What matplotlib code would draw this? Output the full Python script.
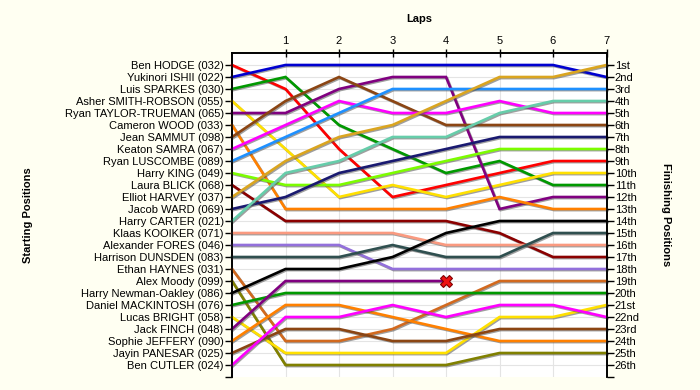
import numpy as np
import matplotlib
matplotlib.use('Agg')
import matplotlib.pyplot as plt
import matplotlib.patheffects as pe

plt.rcParams['font.family'] = ['Liberation Sans', 'DejaVu Sans']

laps = [0, 1, 2, 3, 4, 5, 6, 7]

drivers = ['Ben HODGE (032)', 'Yukinori ISHII (022)', 'Luis SPARKES (030)',
           'Asher SMITH-ROBSON (055)', 'Ryan TAYLOR-TRUEMAN (065)', 'Cameron WOOD (033)',
           'Jean SAMMUT (098)', 'Keaton SAMRA (067)', 'Ryan LUSCOMBE (089)',
           'Harry KING (049)', 'Laura BLICK (068)', 'Elliot HARVEY (037)',
           'Jacob WARD (069)', 'Harry CARTER (021)', 'Klaas KOOIKER (071)',
           'Alexander FORES (046)', 'Harrison DUNSDEN (083)', 'Ethan HAYNES (031)',
           'Alex Moody (099)', 'Harry Newman-Oakley (086)', 'Daniel MACKINTOSH (076)',
           'Lucas BRIGHT (058)', 'Jack FINCH (048)', 'Sophie JEFFERY (090)',
           'Jayin PANESAR (025)', 'Ben CUTLER (024)']

colors = ['#ff0000', '#0000d0', '#009900', '#ffe000', '#800080', '#ff8000',
          '#8b4513', '#ff00ff', '#1e90ff', '#7cfc00', '#8b0000', '#daa520',
          '#191970', '#66cdaa', '#fa9a80', '#9370db', '#2f4f4f', '#d2691e',
          '#808000', '#000000', '#009900', '#ffe000', '#800080', '#ff8000',
          '#8b4513', '#ff00ff']

# position after each lap (None = retired)
positions = [
    [1, 3, 8, 12, 11, 10, 9, 9],
    [2, 1, 1, 1, 1, 1, 1, 2],
    [3, 2, 6, 8, 10, 9, 11, 11],
    [4, 8, 12, 11, 12, 11, 10, 10],
    [5, 5, 3, 2, 2, 13, 12, 12],
    [6, 13, 13, 13, 13, 12, 13, 13],
    [7, 4, 2, 4, 6, 6, 6, 6],
    [8, 6, 4, 5, 5, 4, 5, 5],
    [9, 7, 5, 3, 3, 3, 3, 3],
    [10, 11, 11, 10, 9, 8, 8, 8],
    [11, 14, 14, 14, 14, 15, 17, 17],
    [12, 9, 7, 6, 4, 2, 2, 1],
    [13, 12, 10, 9, 8, 7, 7, 7],
    [14, 10, 9, 7, 7, 5, 4, 4],
    [15, 15, 15, 15, 16, 16, 16, 16],
    [16, 16, 16, 18, 18, 18, 18, 18],
    [17, 17, 17, 16, 17, 17, 15, 15],
    [18, 24, 24, 23, 21, 19, 19, 19],
    [19, 26, 26, 26, 26, 25, 25, 25],
    [20, 18, 18, 17, 15, 14, 14, 14],
    [21, 20, 20, 20, 20, 20, 20, 20],
    [22, 25, 25, 25, 25, 22, 22, 21],
    [23, 19, 19, 19, 19, None, None, None],
    [24, 21, 21, 22, 23, 24, 24, 24],
    [25, 23, 23, 24, 24, 23, 23, 23],
    [26, 22, 22, 21, 22, 21, 21, 22],
]

finish_labels = ['1st', '2nd', '3rd'] + [f'{i}th' for i in range(4, 21)] + \
                ['21st', '22nd', '23rd', '24th', '25th', '26th']

bg = '#fffff2'
fig = plt.figure(figsize=(7, 3.9), dpi=100, facecolor=bg)
ax = fig.add_axes([232 / 700, 13 / 390, 374.5 / 700, 324 / 390])
ax.set_facecolor('white')

for lap in laps:
    ax.axvline(lap, color='#e4e4e4', lw=0.8, zorder=0)
for p in range(1, 27):
    ax.axhline(p, color='#e4e4e4', lw=0.8, zorder=0)

shadow = [pe.SimpleLineShadow(offset=(0.8, -0.8), shadow_color='#505050', alpha=0.55),
          pe.Normal()]
for name, col, pos in zip(drivers, colors, positions):
    ys = [np.nan if v is None else v for v in pos]
    ax.plot(laps, ys, color=col, lw=1.9, solid_joinstyle='miter',
            path_effects=shadow, zorder=3, clip_on=False)
    if None in pos:
        last = max(i for i, v in enumerate(pos) if v is not None)
        ax.plot(laps[last], pos[last], marker='X', ms=9, color='#ee1111',
                mec='#800000', mew=0.8, zorder=5, clip_on=False)

ax.set_xlim(0, 7)
ax.set_ylim(27, 0)

ax.xaxis.tick_top()
ax.set_xticks(laps[1:])
ax.tick_params(axis='x', direction='inout', length=6, width=1, labelsize=8, pad=2)

ax.set_yticks(list(range(1, 28)))
ax.set_yticklabels(drivers + [''])
ax.tick_params(axis='y', direction='out', length=5, width=1, labelsize=8, pad=1)

ax2 = ax.twinx()
ax2.set_ylim(27, 0)
ax2.set_yticks(list(range(1, 28)))
ax2.set_yticklabels(finish_labels + [''])
ax2.tick_params(axis='y', direction='out', length=5, width=1, labelsize=8, pad=1)

for a in (ax, ax2):
    a.spines['bottom'].set_visible(False)
    for s in ('top', 'left', 'right'):
        a.spines[s].set_linewidth(1.2)

fig.text(419 / 700, 1 - 19 / 390, 'Laps', fontsize=8, fontweight='bold',
         ha='center', va='center')
fig.text(28 / 700, 1 - 215 / 390, 'Starting Positions', fontsize=8, fontweight='bold',
         rotation=90, ha='center', va='center')
fig.text(666 / 700, 1 - 215 / 390, 'Finishing Positions', fontsize=8, fontweight='bold',
         rotation=270, ha='center', va='center')

fig.savefig('out.png', dpi=100, facecolor=bg)
